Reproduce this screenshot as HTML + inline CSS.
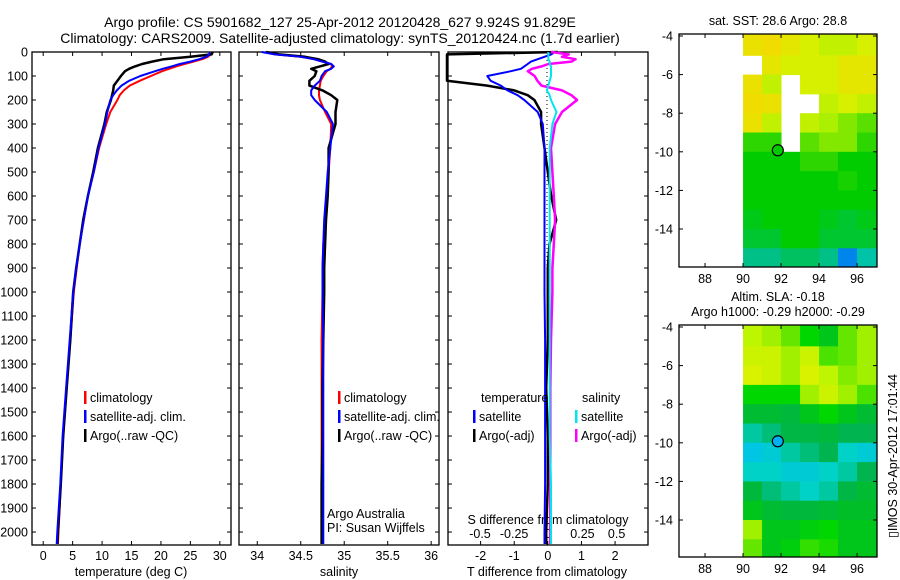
<!DOCTYPE html>
<html><head><meta charset="utf-8"><style>
html,body{margin:0;padding:0;background:#fff;}
svg{display:block;font-family:"Liberation Sans",sans-serif;}
text{font-size:12.5px;fill:#000;}
</style></head><body>
<svg id="fig" width="900" height="580" viewBox="0 0 900 580" xmlns="http://www.w3.org/2000/svg">
<text x="340" y="27" text-anchor="middle" style="font-size:14px">Argo profile: CS 5901682_127 25-Apr-2012 20120428_627 9.924S 91.829E</text>
<text x="340" y="43" text-anchor="middle" style="font-size:14px">Climatology: CARS2009. Satellite-adjusted climatology: synTS_20120424.nc (1.7d earlier)</text>
<text x="778" y="25" text-anchor="middle">sat. SST: 28.6 Argo: 28.8</text>
<text x="778" y="301" text-anchor="middle">Altim. SLA: -0.18</text>
<text x="778" y="316" text-anchor="middle">Argo h1000: -0.29 h2000: -0.29</text>
<text transform="translate(897,456) rotate(-90)" text-anchor="middle">▯IMOS 30-Apr-2012 17:01:44</text>
<g id="g"></g>
</svg>
<script>
const depths=[0,10,20,30,40,50,60,70,80,100,120,140,160,180,200,250,300,400,500,600,700,800,900,1000,1200,1400,1600,1800,2000,2050];
const tempClim=[28.5,28.4,28.0,27.0,25.5,24.0,22.6,21.4,20.2,18.3,16.4,14.7,13.7,13.0,12.6,11.4,10.7,9.5,8.6,7.6,6.9,6.2,5.7,5.2,4.6,4.0,3.4,3.0,2.6,2.5];
const tempSat=[28.3,28.2,27.7,26.5,25.0,23.2,21.8,20.3,19.0,16.5,14.6,13.3,12.5,11.9,11.4,10.9,10.5,9.4,8.6,7.6,6.9,6.2,5.6,5.1,4.5,3.9,3.3,2.9,2.4,2.3];
const tempArgo=[28.8,28.6,25.0,20.5,18.5,16.8,15.6,14.6,13.9,13.2,12.6,12.0,11.9,11.7,11.5,10.8,10.4,9.3,8.5,7.6,6.8,6.2,5.6,5.1,4.6,4.0,3.4,3.0,2.5,2.4];
const salClim=[34.1,34.2,34.5,34.65,34.75,34.85,34.86,34.84,34.80,34.76,34.73,34.72,34.71,34.71,34.72,34.78,34.85,34.84,34.82,34.80,34.78,34.76,34.75,34.75,34.74,34.74,34.74,34.74,34.74,34.74];
const salSat=[34.05,34.2,34.5,34.65,34.75,34.85,34.88,34.85,34.78,34.74,34.72,34.66,34.62,34.62,34.66,34.80,34.87,34.84,34.81,34.79,34.77,34.76,34.75,34.75,34.76,34.76,34.76,34.76,34.76,34.76];
const salArgo=[34.1,34.25,34.55,34.7,34.78,34.82,34.72,34.62,34.68,34.66,34.60,34.60,34.75,34.85,34.92,34.90,34.90,34.82,34.82,34.81,34.79,34.78,34.77,34.77,34.76,34.75,34.75,34.74,34.74,34.74];
const tDiffSat=[0.2,0.1,-0.1,-0.3,-0.5,-0.6,-0.7,-0.8,-1.1,-1.8,-1.7,-1.4,-1.2,-0.9,-0.7,-0.3,-0.15,-0.1,-0.1,-0.1,-0.1,-0.1,-0.1,-0.1,-0.08,-0.08,-0.08,-0.08,-0.1,-0.1];
const tDiffArgo=[0.3,-3,-3,-3,-3,-3,-3,-3,-3,-3,-3,-1.8,-1.0,-0.6,-0.4,-0.2,-0.2,-0.1,0,0.1,0.25,0.05,0,0,0,-0.05,0,0,-0.05,-0.05];
const sDiffSat=[0,0,0,0,0.01,0.01,0.02,0.02,0.02,0.02,0.01,0,-0.01,0.01,0.02,0.06,0.03,0.01,0.01,0.01,0.01,0.01,0.01,0.01,0.01,0.01,0.01,0.02,0.02,0.02];
const sDiffArgo=[0.02,0.15,0.1,0.2,0.17,0.0,-0.05,-0.12,-0.15,-0.1,-0.08,-0.05,0.1,0.17,0.21,0.1,0.05,0.02,0.03,0.04,0.05,0.04,0.03,0.03,0.02,0.015,0.015,0.015,0.015,0.015];
const depthTicks=[0,100,200,300,400,500,600,700,800,900,1000,1100,1200,1300,1400,1500,1600,1700,1800,1900,2000];
const tempTicks=[0,5,10,15,20,25,30];
const salTicks=[34,34.5,35,35.5,36];
const tdTicks=[-2,-1,0,1,2];
const sdTicks=[-0.5,-0.25,0,0.25,0.5];
const lonTicks=[88,90,92,94,96];
const latTicks=[-4,-6,-8,-10,-12,-14];
const sstLats=[-4,-5,-6,-7,-8,-9,-10,-11,-12,-13,-14,-15];
const sstLons=[90,91,92,93,94,95,96];
const sstVals=[
[29.05,29.1,29.0,28.9,28.8,28.8,28.9],
[null,29.0,28.9,28.9,28.9,29.0,29.0],
[29.05,28.8,null,28.9,28.9,29.0,29.0],
[29.1,29.05,null,null,28.8,28.9,28.8],
[29.05,28.8,null,28.8,28.7,28.6,28.5],
[28.4,28.4,null,28.5,28.6,28.6,28.4],
[28.3,28.3,28.3,28.4,28.4,28.3,28.3],
[28.3,28.3,28.3,28.3,28.3,28.35,28.3],
[28.3,28.3,28.3,28.3,28.3,28.3,28.3],
[28.25,28.3,28.3,28.3,28.25,28.2,28.25],
[28.2,28.2,28.3,28.3,28.2,28.2,28.2],
[28.0,28.0,28.1,28.1,28.0,27.6,27.9]];
const slaVals=[
[-0.13,-0.14,-0.16,-0.2,-0.22,-0.16,-0.14],
[-0.12,-0.12,-0.14,-0.12,-0.17,-0.16,-0.14],
[-0.11,-0.12,-0.14,-0.11,-0.13,-0.15,-0.14],
[-0.2,-0.2,-0.2,-0.14,-0.12,-0.14,-0.17],
[-0.24,-0.24,-0.25,-0.22,-0.2,-0.22,-0.24],
[-0.29,-0.28,-0.26,-0.26,-0.25,-0.27,-0.27],
[-0.32,-0.31,-0.29,-0.28,-0.27,-0.3,-0.31],
[-0.3,-0.3,-0.31,-0.31,-0.3,-0.29,-0.27],
[-0.25,-0.28,-0.29,-0.3,-0.29,-0.26,-0.24],
[-0.22,-0.24,-0.25,-0.25,-0.24,-0.23,-0.23],
[-0.14,-0.22,-0.22,-0.21,-0.2,-0.22,-0.22],
[-0.16,-0.22,-0.21,-0.18,-0.19,-0.22,-0.22]];
const argoLon=91.83, argoLat=-9.92;

const NS='http://www.w3.org/2000/svg';
const G=document.getElementById('g');
function mk(tag,attrs,parent){const e=document.createElementNS(NS,tag);for(const k in attrs)e.setAttribute(k,attrs[k]);(parent||G).appendChild(e);return e;}
function txt(s,x,y,anchor,parent,size){const t=mk('text',{x:x,y:y,'text-anchor':anchor||'start'},parent);if(size)t.style.fontSize=size;t.textContent=s;return t;}

const PT=52,PB=545;
const yD=d=>PT+(d/2054)*(PB-PT);
function lin(d0,d1,r0,r1){return v=>r0+(v-d0)/(d1-d0)*(r1-r0);}

const panels=[
 {name:'temperature-panel',x0:32,x1:231,sx:lin(-1.9,31.9,32,231)},
 {name:'salinity-panel',x0:239,x1:439,sx:lin(33.79,36.09,239,439)},
 {name:'difference-panel',x0:448,x1:648,sx:lin(-2.97,2.98,448,648)}];

panels.forEach((p,i)=>{
 const r=mk('rect',{x:p.x0,y:PT,width:p.x1-p.x0,height:PB-PT,fill:'none',stroke:'#000','stroke-width':1.3});
 
 
 depthTicks.forEach(d=>{
  mk('line',{x1:p.x0,x2:p.x0+4,y1:yD(d),y2:yD(d),stroke:'#000'});
  mk('line',{x1:p.x1-4,x2:p.x1,y1:yD(d),y2:yD(d),stroke:'#000'});
 });
});
const yl=mk('g',{});


depthTicks.forEach(d=>{txt(String(d),28,yD(d)+4.5,'end',yl);});

function xTicks(p,ticks,labelY,fmt){
 const g=mk('g',{});
 
 
 ticks.forEach(t=>{const x=p.sx(t);
  mk('line',{x1:x,x2:x,y1:PB,y2:PB-4,stroke:'#000'},g);
  mk('line',{x1:x,x2:x,y1:PT,y2:PT+4,stroke:'#000'},g);
  txt(fmt?fmt(t):String(t),x,labelY,'middle',g);});
}
xTicks(panels[0],tempTicks,560);
xTicks(panels[1],salTicks,560);
xTicks(panels[2],tdTicks,560);
const sdx=lin(-0.5,0.5,480,616.6);
const sdg=mk('g',{});


sdTicks.forEach(t=>txt(String(t),sdx(t),538,'middle',sdg));
txt('S difference from climatology',548,524,'middle',sdg);

function axt(s,x,name){const t=txt(s,x,576,'middle');}
axt('temperature (deg C)',131,'temperature-axis-title');
axt('salinity',339,'salinity-axis-title');
axt('T difference from climatology',547,'t-difference-axis-title');

function line(vals,sx,color,name,w){
 const pts=vals.map((v,i)=>sx(v).toFixed(1)+','+yD(depths[i]).toFixed(1)).join(' ');
 const l=mk('polyline',{points:pts,fill:'none',stroke:color,'stroke-width':w||2,'stroke-linejoin':'round'});
 
 
}
line(tempClim,panels[0].sx,'#ff0000','temp-climatology-line');
line(tempArgo,panels[0].sx,'#000','temp-argo-line',2.5);
line(tempSat,panels[0].sx,'#0000ff','temp-satellite-line');
line(salClim,panels[1].sx,'#ff0000','sal-climatology-line');
line(salArgo,panels[1].sx,'#000','sal-argo-line',2.5);
line(salSat,panels[1].sx,'#0000ff','sal-satellite-line');
const zl=mk('line',{x1:547,x2:547,y1:PT,y2:PB,stroke:'#000','stroke-dasharray':'1,3'});


const sdScale=lin(-0.5,0.5,480,616.6);
line(tDiffArgo,panels[2].sx,'#000','tdiff-argo-line',2.5);
line(tDiffSat,panels[2].sx,'#0000ff','tdiff-satellite-line');
line(sDiffArgo,sdScale,'#ff00ff','sdiff-argo-line',2.5);
line(sDiffSat,sdScale,'#00e5ee','sdiff-satellite-line');

function legend(x,y,items,name){
 const g=mk('g',{});
 
 
 items.forEach((it,i)=>{
  if(it[1])mk('rect',{x:x,y:y+i*19-10,width:2.5,height:13,fill:it[1]},g);
  txt(it[0],x+6,y+i*19+1,'start',g);
 });
}
legend(84,401,[['climatology','#ff0000'],['satellite-adj. clim.','#0000ff'],['Argo(..raw -QC)','#000']],'temperature-legend');
legend(338,401,[['climatology','#ff0000'],['satellite-adj. clim.','#0000ff'],['Argo(..raw -QC)','#000']],'salinity-legend');
txt('temperature',481,402);
legend(473,420,[['satellite','#0000ff'],['Argo(-adj)','#000']],'tdiff-legend');
txt('salinity',582,402);
legend(575,420,[['satellite','#00e5ee'],['Argo(-adj)','#ff00ff']],'sdiff-legend');
txt('Argo Australia',327,518);
txt('PI: Susan Wijffels',327,532);

function interp(stops,v){
 if(v<=stops[0][0])return 'rgb('+stops[0][1].join(',')+')';
 for(let i=1;i<stops.length;i++){if(v<=stops[i][0]){const a=stops[i-1],b=stops[i],t=(v-a[0])/(b[0]-a[0]);
  return 'rgb('+[0,1,2].map(k=>Math.round(a[1][k]+(b[1][k]-a[1][k])*t)).join(',')+')';}}
 return 'rgb('+stops[stops.length-1][1].join(',')+')';
}
const sstStops=[[27.0,[0,0,150]],[27.5,[0,100,255]],[27.8,[0,200,200]],[28.05,[0,190,120]],[28.3,[0,204,0]],[28.5,[90,224,0]],[28.7,[170,240,0]],[28.9,[215,240,0]],[29.1,[240,220,0]],[29.3,[250,180,0]]];
const slaStops=[[-0.33,[0,190,240]],[-0.3,[0,210,200]],[-0.27,[0,180,80]],[-0.23,[0,190,40]],[-0.2,[0,215,0]],[-0.16,[100,230,0]],[-0.13,[190,245,0]],[-0.1,[230,240,0]]];

function map(top,bottom,vals,stops,name,circleFill){
 const L=679,R=877;
 const mx=lin(86.63,97.05,L,R), my=lin(-4,-14,top+2,top+2+193);
 const g=mk('g',{});
 
 
 const cid='clip'+name;
 const cp=mk('clipPath',{id:cid},g);mk('rect',{x:L,y:top,width:R-L,height:bottom-top},cp);
 const cells=mk('g',{'clip-path':'url(#'+cid+')'},g);
 vals.forEach((row,i)=>row.forEach((v,j)=>{
  if(v===null)return;
  const x0=mx(sstLons[j]),x1=mx(sstLons[j]+1);
  const y0=my(sstLats[i]+(i===0?0.2:0)),y1=my(sstLats[i]-1);
  const c=mk('rect',{x:x0,y:y0,width:x1-x0+0.5,height:y1-y0+0.5,fill:interp(stops,v)},cells);
  
  
 }));
 mk('rect',{x:L,y:top,width:R-L,height:bottom-top,fill:'none',stroke:'#000','stroke-width':1.3},g);
 latTicks.forEach(t=>{const y=my(t);
  mk('line',{x1:L,x2:L+4,y1:y,y2:y,stroke:'#000'},g);mk('line',{x1:R-4,x2:R,y1:y,y2:y,stroke:'#000'},g);
  txt(String(t),673,y+4.5,'end',g);});
 lonTicks.forEach(t=>{const x=mx(t);
  mk('line',{x1:x,x2:x,y1:bottom,y2:bottom-4,stroke:'#000'},g);mk('line',{x1:x,x2:x,y1:top,y2:top+4,stroke:'#000'},g);
  txt(String(t),x,bottom+16,'middle',g);});
 const c=mk('circle',{cx:mx(argoLon),cy:my(argoLat),r:5.5,fill:circleFill,stroke:'#000','stroke-width':1.2},g);
 
 
}
map(34,267,sstVals,sstStops,'sst-map','rgb(0,204,0)');
map(325,557,slaVals,slaStops,'sla-map','rgb(0,176,240)');
</script>
</body></html>
